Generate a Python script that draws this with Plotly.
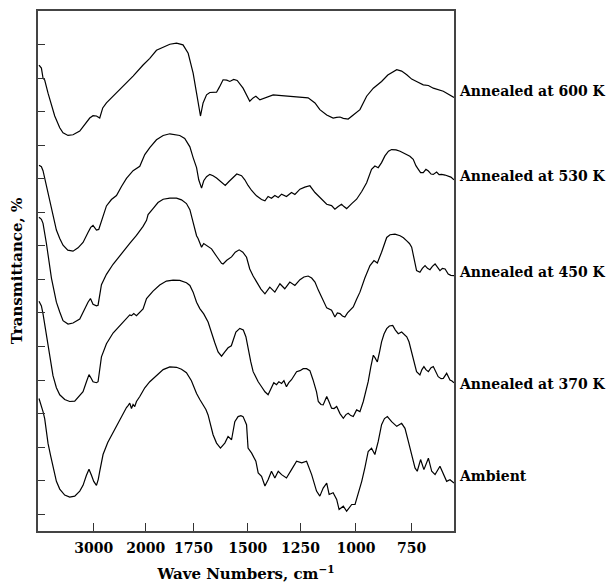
import numpy as np
import plotly.graph_objects as go

# ---------------- data (wavenumber cm^-1, transmittance in arbitrary offset units) ----------------
wn_600 = [3982, 3939, 3910, 3880, 3820, 3759, 3700, 3610, 3551, 3461, 3372, 3251, 3162, 3072, 3013, 2948, 2885, 2827, 2756, 2563,
          2371, 2244, 2052, 1979, 1944, 1909, 1874, 1839, 1805, 1778, 1752, 1736, 1729, 1718, 1706, 1690, 1675, 1644, 1631, 1614,
          1597, 1583, 1565, 1549, 1522, 1506, 1491, 1475, 1462, 1443, 1419, 1380, 1340, 1301, 1253, 1216, 1185, 1163, 1132, 1103,
          1087, 1072, 1057, 1035, 1012, 982, 952, 922, 885, 857, 817, 795, 772, 750, 728, 698, 675, 653, 608, 586, 560]
tr_600 = [138.9, 138.0, 135.0, 134.4, 130.5, 126.7, 123.7, 120.2, 118.7, 117.9, 118.1, 119.2, 121.1, 123.1, 123.8, 123.7, 123.1, 126.1, 127.6, 130.5,
          133.5, 135.6, 138.9, 140.9, 143.3, 144.2, 145.1, 145.4, 144.9, 142.4, 136.5, 130.5, 127.6, 123.7, 127.6, 130.0, 130.7, 130.8, 132.3, 134.5,
          134.4, 134.0, 134.6, 134.3, 132.0, 129.7, 128.1, 129.1, 129.6, 128.5, 129.1, 130.0, 129.8, 129.6, 129.5, 129.1, 127.6, 125.6, 124.0, 123.1,
          123.3, 123.4, 123.0, 122.8, 124.0, 125.6, 129.6, 132.0, 134.0, 135.9, 137.5, 137.1, 136.0, 134.7, 134.0, 133.0, 132.8, 132.0, 131.1, 130.2, 129.2]

wn_530 = [3982, 3939, 3910, 3849, 3759, 3670, 3610, 3551, 3466, 3372, 3282, 3192, 3103, 3054, 3013, 2948, 2904, 2852, 2756, 2660,
          2563, 2467, 2371, 2244, 2115, 2019, 1979, 1944, 1909, 1874, 1848, 1822, 1796, 1769, 1752, 1736, 1726, 1713, 1703, 1690,
          1675, 1660, 1644, 1621, 1604, 1588, 1568, 1551, 1529, 1514, 1499, 1482, 1459, 1435, 1419, 1404, 1388, 1372, 1356, 1340,
          1317, 1293, 1277, 1253, 1231, 1208, 1185, 1163, 1132, 1110, 1095, 1080, 1065, 1054, 1042, 1019, 997, 974, 952, 930,
          915, 900, 885, 870, 854, 840, 820, 802, 787, 772, 758, 743, 731, 720, 710, 698, 686, 675, 663, 653,
          638, 627, 615, 600, 586, 574, 560]
tr_530 = [109.0, 108.6, 107.4, 103.0, 95.8, 89.7, 87.2, 85.2, 83.7, 83.4, 84.4, 86.0, 89.0, 90.5, 91.1, 89.7, 89.9, 92.6, 96.9, 98.8,
          100.0, 102.7, 105.1, 107.4, 108.7, 112.2, 114.3, 116.6, 117.9, 118.4, 118.2, 117.9, 117.0, 114.5, 111.3, 108.3, 104.7, 102.2, 104.4, 105.6,
          106.3, 105.9, 105.2, 103.8, 103.0, 104.1, 105.5, 106.4, 105.9, 104.7, 103.0, 101.5, 99.9, 98.8, 98.4, 99.7, 99.2, 100.0, 99.4, 100.4,
          99.7, 100.9, 100.3, 101.9, 102.5, 102.9, 100.9, 99.4, 97.4, 97.0, 95.9, 96.7, 97.4, 96.7, 96.1, 97.6, 98.9, 101.2, 103.8, 107.8,
          108.8, 108.3, 109.8, 111.8, 113.2, 113.7, 113.6, 113.2, 112.7, 112.2, 111.7, 110.8, 108.9, 107.8, 106.8, 106.8, 107.8, 107.3, 106.4, 106.3,
          107.0, 106.2, 106.3, 106.1, 105.8, 105.5, 104.7]

wn_450 = [3982, 3939, 3910, 3849, 3759, 3670, 3610, 3551, 3461, 3372, 3251, 3162, 3103, 3059, 3013, 2948, 2917, 2852, 2756, 2629,
          2467, 2308, 2179, 2052, 1996, 1988, 1962, 1936, 1909, 1874, 1839, 1813, 1787, 1769, 1752, 1736, 1729, 1713, 1703, 1693,
          1683, 1667, 1644, 1621, 1614, 1597, 1575, 1558, 1540, 1523, 1506, 1491, 1475, 1459, 1438, 1419, 1396, 1372, 1348, 1325,
          1301, 1277, 1253, 1235, 1216, 1200, 1185, 1170, 1155, 1132, 1110, 1095, 1084, 1072, 1061, 1050, 1038, 1027, 1012, 997,
          982, 960, 937, 919, 904, 885, 874, 862, 847, 825, 802, 787, 772, 760, 750, 740, 728, 713, 702, 690,
          679, 668, 657, 645, 634, 623, 612, 600, 586, 574, 560]
tr_450 = [93.5, 92.9, 91.7, 85.7, 75.4, 68.2, 65.3, 62.7, 61.7, 62.0, 63.2, 66.5, 68.2, 69.3, 67.6, 67.1, 67.3, 73.4, 76.5, 79.5,
          82.8, 85.7, 88.1, 90.8, 92.6, 94.3, 96.1, 97.9, 98.9, 99.2, 99.2, 98.7, 97.6, 95.8, 92.0, 88.0, 87.2, 84.6, 85.7, 85.2,
          84.7, 84.1, 81.9, 79.8, 79.6, 80.7, 81.7, 83.1, 83.8, 83.1, 81.6, 78.1, 76.0, 74.2, 72.1, 70.7, 72.7, 71.2, 73.7, 72.2,
          74.2, 73.2, 74.9, 75.7, 76.0, 75.4, 74.2, 71.8, 69.7, 66.5, 65.8, 63.8, 65.0, 64.8, 64.1, 63.8, 65.0, 65.8, 66.8, 69.1,
          71.2, 75.4, 79.1, 80.6, 79.9, 83.1, 85.4, 87.5, 88.3, 88.5, 88.0, 87.4, 86.5, 85.7, 84.6, 81.3, 77.6, 77.1, 78.3, 79.1,
          78.3, 77.9, 78.9, 79.6, 78.6, 77.6, 78.3, 78.1, 76.6, 76.2, 76.1]

wn_370 = [3982, 3939, 3910, 3871, 3820, 3772, 3731, 3670, 3610, 3521, 3431, 3341, 3251, 3192, 3131, 3085, 3041, 3013, 2948, 2917,
          2852, 2756, 2629, 2500, 2371, 2308, 2275, 2231, 2179, 2115, 2052, 1996, 1962, 1927, 1892, 1857, 1822, 1787, 1769, 1752,
          1736, 1721, 1703, 1683, 1667, 1652, 1637, 1621, 1606, 1591, 1576, 1567, 1555, 1537, 1521, 1509, 1499, 1486, 1475, 1462,
          1451, 1435, 1419, 1404, 1388, 1377, 1364, 1353, 1340, 1329, 1317, 1306, 1293, 1269, 1253, 1238, 1223, 1208, 1194, 1178,
          1170, 1158, 1148, 1132, 1122, 1110, 1099, 1087, 1072, 1057, 1045, 1035, 1023, 1012, 997, 982, 967, 952, 945, 933,
          922, 914, 904, 894, 885, 874, 862, 850, 835, 823, 810, 795, 784, 772, 762, 750, 740, 728, 713, 704,
          695, 686, 675, 663, 653, 643, 631, 618, 608, 593, 578, 569, 560]
tr_370 = [68.5, 67.1, 64.7, 60.8, 54.6, 50.4, 46.3, 42.7, 40.6, 39.2, 38.6, 38.7, 40.4, 41.5, 44.5, 46.6, 45.4, 44.5, 44.2, 44.5,
          51.9, 55.8, 59.0, 61.1, 63.2, 64.4, 64.2, 64.8, 64.2, 65.3, 66.2, 69.3, 71.5, 73.3, 74.5, 74.8, 74.7, 74.0, 73.2, 71.2,
          68.2, 66.3, 64.7, 62.3, 58.7, 56.1, 53.4, 52.1, 53.4, 54.6, 55.2, 57.3, 59.3, 60.4, 59.9, 57.9, 54.3, 50.4, 47.5, 45.7,
          44.5, 43.0, 41.5, 40.6, 43.0, 44.2, 43.6, 44.5, 44.0, 44.8, 43.0, 44.2, 45.1, 47.5, 47.8, 48.4, 48.4, 47.8, 45.1, 41.5,
          38.6, 37.7, 37.6, 40.1, 38.6, 36.6, 36.5, 37.1, 35.0, 33.6, 34.7, 35.1, 34.4, 34.1, 36.1, 35.6, 38.6, 42.5, 44.5, 49.0,
          52.4, 51.6, 50.4, 53.4, 56.4, 58.7, 60.3, 61.1, 61.3, 59.9, 58.8, 59.3, 58.7, 57.9, 56.4, 53.4, 50.4, 47.5, 46.5, 48.1,
          49.0, 48.1, 47.5, 48.7, 49.0, 47.5, 46.0, 45.4, 45.5, 47.0, 45.0, 44.7, 44.2]

wn_amb = [3982, 3939, 3910, 3880, 3849, 3820, 3772, 3731, 3670, 3610, 3521, 3431, 3341, 3251, 3192, 3131, 3085, 3041, 3000, 2948,
          2913, 2885, 2821, 2731, 2629, 2500, 2371, 2340, 2308, 2275, 2244, 2212, 2179, 2115, 2019, 1979, 1944, 1909, 1874, 1839,
          1813, 1787, 1761, 1736, 1721, 1706, 1693, 1683, 1670, 1660, 1644, 1626, 1606, 1591, 1575, 1560, 1545, 1532, 1522, 1506,
          1499, 1482, 1462, 1451, 1435, 1419, 1404, 1388, 1372, 1356, 1340, 1317, 1293, 1269, 1245, 1223, 1200, 1178, 1163, 1148,
          1132, 1121, 1103, 1087, 1076, 1057, 1042, 1019, 1004, 990, 974, 960, 945, 930, 915, 900, 885, 872, 859, 840,
          817, 795, 780, 765, 750, 735, 725, 710, 695, 675, 660, 645, 623, 608, 593, 578, 560]
tr_amb = [39.5, 37.4, 35.6, 33.5, 29.7, 26.1, 22.3, 19.0, 14.8, 12.5, 10.7, 10.1, 10.4, 11.9, 13.6, 16.6, 18.4, 16.6, 14.8, 13.6,
          15.4, 17.8, 22.8, 26.4, 29.4, 33.2, 36.8, 37.4, 38.1, 36.5, 37.7, 37.1, 38.6, 40.1, 42.7, 44.5, 46.3, 48.1, 48.9, 48.8,
          48.2, 47.2, 44.8, 41.0, 39.2, 37.6, 36.2, 34.6, 31.4, 28.7, 26.2, 24.7, 26.2, 28.2, 27.2, 32.6, 34.1, 34.4, 34.1, 31.7,
          24.7, 23.2, 20.8, 17.3, 16.3, 13.4, 15.3, 17.8, 15.8, 17.8, 16.8, 15.8, 18.3, 20.8, 20.3, 20.8, 16.8, 11.9, 10.4, 12.8,
          14.3, 10.9, 11.4, 9.4, 6.4, 7.4, 5.9, 7.9, 7.9, 10.9, 14.8, 18.8, 23.7, 24.7, 22.8, 26.7, 31.7, 33.5, 34.1, 32.6,
          31.2, 32.1, 30.6, 26.7, 22.8, 18.8, 17.8, 21.3, 18.3, 21.7, 17.8, 16.8, 19.3, 16.8, 14.8, 15.3, 14.3]

series_names = ["Annealed at 600 K", "Annealed at 530 K", "Annealed at 450 K", "Annealed at 370 K", "Ambient"]
label_levels = [131.1, 105.9, 77.1, 43.9, 16.3]

# x-axis: the original uses a split (non-uniform) wavenumber scale
scale_wn = [4000, 3000, 2000, 1750, 1500, 1250, 1000, 750, 560]
scale_pos = [0, 55.7, 107.7, 155.4, 209.7, 262.4, 317.7, 373.4, 415.7]
tick_wn = [3000, 2000, 1750, 1500, 1250, 1000, 750]
tick_labels = ["3000", "2000", "1750", "1500", "1250", "1000", "750"]
y_ticks = [5, 15, 25, 35, 45, 55, 65, 75, 85, 95, 105, 115, 125, 135, 145]


def to_axis(wn):
    wn = np.asarray(wn, dtype=float)
    return np.interp(-wn, -np.array(scale_wn, float), np.array(scale_pos, float))


FONT = "DejaVu Serif"
fig = go.Figure()
for name, wn, tr in zip(series_names,
                        [wn_600, wn_530, wn_450, wn_370, wn_amb],
                        [tr_600, tr_530, tr_450, tr_370, tr_amb]):
    fig.add_trace(go.Scatter(x=to_axis(wn), y=tr, mode="lines", name=name,
                             line=dict(color="black", width=1.2), showlegend=False))

for name, lvl in zip(series_names, label_levels):
    fig.add_annotation(x=1, xref="paper", y=lvl, yref="y", text=name, showarrow=False,
                       xanchor="left", yanchor="middle", xshift=3,
                       font=dict(family=FONT, size=14, color="black", weight="bold"))

# the page body adds an 8 px offset, so the figure is sized to fit inside the window
fig.update_layout(
    width=608, height=575,
    margin=dict(l=30, r=162, t=1, b=52),
    paper_bgcolor="white", plot_bgcolor="white",
    font=dict(family=FONT, color="black"),
)
fig.update_xaxes(
    range=[scale_pos[0], scale_pos[-1]],
    tickvals=to_axis(tick_wn), ticktext=tick_labels,
    ticks="inside", ticklen=8, tickwidth=1.2, tickcolor="#333",
    showline=True, linecolor="#444", linewidth=1.5, mirror=True,
    showgrid=False, zeroline=False, ticklabelstandoff=3,
    tickfont=dict(family=FONT, size=14, color="black", weight="bold"),
    title=dict(text="Wave Numbers, cm<sup>\u22121</sup>", standoff=14,
               font=dict(family=FONT, size=15, color="black", weight="bold")),
)
fig.update_yaxes(
    range=[0, 155],
    tickvals=y_ticks, showticklabels=False,
    ticks="inside", ticklen=7, tickwidth=1.2, tickcolor="#333",
    showline=True, linecolor="#444", linewidth=1.5, mirror=True,
    showgrid=False, zeroline=False,
    title=dict(text="Transmittance, %", standoff=11,
               font=dict(family=FONT, size=15, color="black", weight="bold")),
)

fig.write_html("out.html")
